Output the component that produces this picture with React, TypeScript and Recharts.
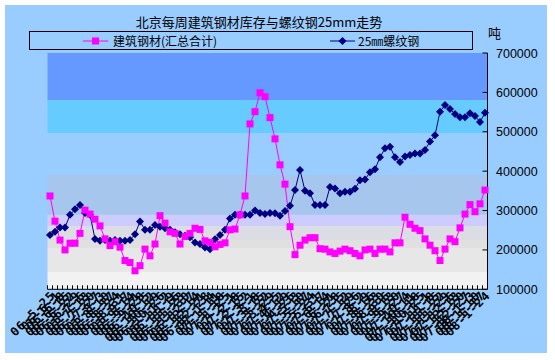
import { LineChart, Line, XAxis, YAxis, ReferenceArea } from 'recharts'

// weekly report dates (yy-m-d)
const weeks = [
  '06-5-25', '06-6-1', '06-6-8', '06-6-15', '06-6-22', '06-6-29', '06-7-6', '06-7-13', '06-7-20', '06-7-27',
  '06-8-3', '06-8-10', '06-8-17', '06-8-24', '06-8-31', '06-9-7', '06-9-14', '06-9-21', '06-9-28', '06-10-5',
  '06-10-12', '06-10-19', '06-10-26', '06-11-2', '06-11-9', '06-11-16', '06-11-23', '06-11-30', '06-12-7', '06-12-14',
  '06-12-21', '06-12-28', '07-1-4', '07-1-11', '07-1-18', '07-1-25', '07-2-1', '07-2-8', '07-2-15', '07-2-22',
  '07-3-1', '07-3-8', '07-3-15', '07-3-22', '07-3-29', '07-4-5', '07-4-12', '07-4-19', '07-4-26', '07-5-3',
  '07-5-10', '07-5-17', '07-5-24', '07-5-31', '07-6-7', '07-6-14', '07-6-21', '07-6-28', '07-7-5', '07-7-12',
  '07-7-19', '07-7-26', '07-8-2', '07-8-9', '07-8-16', '07-8-23', '07-8-30', '07-9-6', '07-9-13', '07-9-20',
  '07-9-27', '07-10-4', '07-10-11', '07-10-18', '07-10-25', '07-11-1', '07-11-8', '07-11-15', '07-11-22', '07-11-29',
  '07-12-6', '07-12-13', '07-12-20', '07-12-27', '08-1-3', '08-1-10', '08-1-17', '08-1-24',
]

// 建筑钢材(汇总合计)
const steelStock = [
  337000, 273000, 225000, 200000, 217000, 217000, 242000, 301000, 291000, 278000,
  261000, 228000, 211000, 221000, 207000, 173000, 168000, 147000, 160000, 202000,
  185000, 215000, 287000, 268000, 246000, 242000, 215000, 234000, 242000, 255000,
  252000, 223000, 219000, 208000, 214000, 218000, 251000, 253000, 289000, 337000,
  520000, 551000, 599000, 589000, 536000, 482000, 416000, 367000, 259000, 188000,
  212000, 225000, 231000, 231000, 203000, 202000, 195000, 191000, 197000, 202000,
  198000, 191000, 185000, 200000, 202000, 191000, 202000, 202000, 195000, 218000,
  218000, 283000, 265000, 255000, 249000, 228000, 212000, 198000, 173000, 202000,
  228000, 221000, 256000, 291000, 315000, 297000, 317000, 352000,
]

// 25mm螺纹钢
const rebar25 = [
  238000, 246000, 257000, 257000, 289000, 303000, 314000, 294000, 289000, 228000,
  223000, 225000, 223000, 225000, 223000, 223000, 225000, 240000, 272000, 251000,
  251000, 263000, 259000, 255000, 251000, 245000, 240000, 236000, 232000, 219000,
  215000, 206000, 202000, 227000, 238000, 251000, 280000, 289000, 289000, 289000,
  289000, 300000, 294000, 291000, 294000, 293000, 287000, 299000, 312000, 352000,
  403000, 350000, 344000, 314000, 314000, 314000, 360000, 356000, 344000, 348000,
  348000, 355000, 377000, 379000, 397000, 405000, 435000, 458000, 462000, 435000,
  423000, 437000, 441000, 445000, 445000, 454000, 475000, 491000, 551000, 568000,
  558000, 545000, 537000, 537000, 547000, 540000, 525000, 548000,
]

const yTicks = [100000, 200000, 300000, 400000, 500000, 600000, 700000]

// plot background stripes (value range + fill)
const BANDS: [number, number, string][] = [
  [580000, 700000, '#6699FF'],
  [497000, 580000, '#66CCFF'],
  [390000, 497000, '#99CCFF'],
  [289000, 390000, '#A6C6EE'],
  [261000, 289000, '#CCCCFF'],
  [225000, 261000, '#DCDCE4'],
  [205000, 225000, '#E0E0E0'],
  [144000, 205000, '#E7E7E7'],
  [100000, 144000, '#F2F2F2'],
]

const data = weeks.map((w, i) => ({ week: w, steel: steelStock[i], rebar: rebar25[i] }))

const CJK = '"Noto Sans CJK SC", sans-serif'

const DateTick = ({ x, y, payload }: any) => (
  <g>
    <line x1={x - 2.5} y1={y} x2={x - 2.5} y2={y - 4} stroke="#000" />
    <g transform={`translate(${x + 3},${y + 4}) rotate(-45)`}>
      <text
        x={0}
        y={0}
        dy="0.35em"
        textAnchor="end"
        fontSize={12}
        fontWeight="bold"
        fontFamily="'DejaVu Sans Mono', monospace"
        letterSpacing={1}
        fill="#000"
      >
        {payload.value}
      </text>
    </g>
  </g>
)

const ValueTick = ({ x, y, payload }: any) => (
  <g>
    <line x1={x - 5} y1={y} x2={x} y2={y} stroke="#000" />
    <text
      x={x + 8.5}
      y={y}
      dy="0.36em"
      fontSize={12.5}
      fontFamily="'Liberation Sans', Arial, sans-serif"
      fill="#000"
    >
      {payload.value}
    </text>
  </g>
)

const squareDot = (p: any) => (
  <rect key={`s-${p.index}`} x={p.cx - 3.5} y={p.cy - 3.5} width={7} height={7} fill="#FF00FF" />
)

const diamondDot = (p: any) => (
  <polygon
    key={`d-${p.index}`}
    points={`${p.cx},${p.cy - 4} ${p.cx + 4},${p.cy} ${p.cx},${p.cy + 4} ${p.cx - 4},${p.cy}`}
    fill="#000080"
  />
)

const App = () => {
  return (
    <div
      style={{
        position: 'absolute',
        left: 5,
        top: 5,
        width: 542,
        height: 348,
        background: '#99CCFF',
      }}
    >
      <LineChart
        width={542}
        height={348}
        data={data}
        margin={{ top: 48, right: 0, bottom: 0, left: 42.5 }}
      >
        {BANDS.map(([from, to, color]) => (
          <ReferenceArea
            key={from}
            yAxisId="r"
            y1={from}
            y2={to}
            fill={color}
            fillOpacity={1}
            stroke="none"
          />
        ))}
        <XAxis
          dataKey="week"
          scale="band"
          interval={0}
          height={63.7}
          tickSize={0}
          tickMargin={0}
          tickLine={false}
          axisLine={{ stroke: '#000' }}
          tick={<DateTick />}
        />
        <YAxis yAxisId="l" orientation="left" width={0} domain={[100000, 700000]} tick={false} tickLine={false} axisLine={{ stroke: '#808080' }} />
        <YAxis
          yAxisId="r"
          orientation="right"
          width={59.5}
          domain={[100000, 700000]}
          ticks={yTicks}
          interval={0}
          tickSize={0}
          tickMargin={0}
          tickLine={false}
          axisLine={{ stroke: '#000' }}
          tick={<ValueTick />}
        />
        <Line
          yAxisId="r"
          dataKey="rebar"
          stroke="#000080"
          strokeWidth={1}
          dot={diamondDot}
          isAnimationActive={false}
        />
        <Line
          yAxisId="r"
          dataKey="steel"
          stroke="#FF00FF"
          strokeWidth={1}
          dot={squareDot}
          isAnimationActive={false}
        />
      </LineChart>

      <div
        style={{
          position: 'absolute',
          left: 0,
          top: 9,
          width: 508,
          textAlign: 'center',
          fontFamily: CJK,
          fontSize: 13,
          lineHeight: '15px',
          color: '#000',
        }}
      >
        北京每周建筑钢材库存与螺纹钢25mm走势
      </div>

      <div
        style={{
          position: 'absolute',
          left: 24,
          top: 26,
          width: 444,
          height: 19,
          boxSizing: 'border-box',
          border: '1px solid #000',
          fontFamily: CJK,
          fontSize: 12,
          color: '#000',
        }}
      >
        <svg width={30} height={10} style={{ position: 'absolute', left: 53, top: 4 }}>
          <line x1={0} y1={5} x2={25} y2={5} stroke="#FF00FF" />
          <rect x={9} y={1.5} width={7} height={7} fill="#FF00FF" />
        </svg>
        <span style={{ position: 'absolute', left: 83, top: 0, lineHeight: '17px' }}>建筑钢材(汇总合计)</span>
        <svg width={30} height={10} style={{ position: 'absolute', left: 300, top: 4 }}>
          <line x1={0} y1={5} x2={25} y2={5} stroke="#000080" />
          <polygon points="12.5,1 16.5,5 12.5,9 8.5,5" fill="#000080" />
        </svg>
        <span style={{ position: 'absolute', left: 328, top: 0, lineHeight: '17px' }}>25㎜螺纹钢</span>
      </div>

      <div
        style={{
          position: 'absolute',
          left: 483,
          top: 20,
          fontFamily: CJK,
          fontSize: 13,
          lineHeight: '15px',
          color: '#000',
        }}
      >
        吨
      </div>
    </div>
  )
}

export default App
